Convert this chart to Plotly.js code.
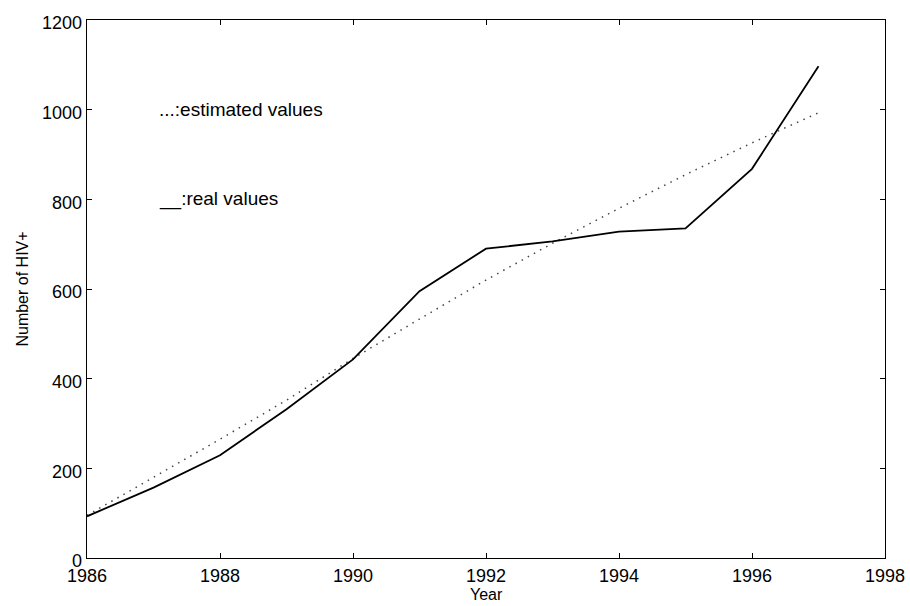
<!DOCTYPE html>
<html>
<head>
<meta charset="utf-8">
<script src="https://cdn.plot.ly/plotly-3.0.1.min.js"></script>
<style>
  html, body { margin: 0; padding: 0; background: #fff; }
  #chart { width: 910px; height: 606px; }
</style>
</head>
<body>
<div id="chart"></div>
<script>
const years = [1986, 1987, 1988, 1989, 1990, 1991, 1992, 1993, 1994, 1995, 1996, 1997];
const realValues = [93, 157, 229, 332, 443, 595, 690, 706, 728, 735, 868, 1097];
const estimatedValues = [95, 180, 265, 352, 445, 533, 620, 702, 780, 855, 926, 993];
const legendLabels = ["...:estimated values", "__:real values"];
const legendY = [1000, 800];
const xTitle = "Year";
const yTitle = "Number of HIV+";

const fontFam = "Liberation Sans, Arial, Helvetica, sans-serif";

const traces = [
  {
    x: years, y: estimatedValues, type: "scatter", mode: "lines",
    line: { color: "#444", width: 1.5, dash: "1.5px,5.5px" },
    hoverinfo: "skip"
  },
  {
    x: years, y: realValues, type: "scatter", mode: "lines",
    line: { color: "#000", width: 1.8 },
    hoverinfo: "skip"
  }
];

const annotations = legendLabels.map((t, i) => ({
  x: 1987.05, y: legendY[i], xref: "x", yref: "y",
  text: t, showarrow: false, xanchor: "left", yanchor: "middle",
  font: { family: fontFam, size: 19, color: "#000" }
}));
annotations.push({
  x: 0.5, y: -0.0874, xref: "paper", yref: "paper",
  text: xTitle, showarrow: false, xanchor: "center", yanchor: "bottom",
  font: { family: fontFam, size: 16, color: "#000" }
});
annotations.push({
  x: -0.082, y: 0.5, xref: "paper", yref: "paper",
  text: yTitle, showarrow: false, textangle: -90,
  xanchor: "center", yanchor: "middle",
  font: { family: fontFam, size: 16, color: "#000" }
});

const axisCommon = {
  showline: true, linecolor: "#000", linewidth: 1.3,
  mirror: "ticks", ticks: "inside", ticklen: 5, tickwidth: 1, tickcolor: "#000",
  showgrid: false, zeroline: false, automargin: false,
  tickfont: { family: fontFam, size: 18, color: "#000" }
};

const layout = {
  width: 910, height: 606,
  margin: { l: 87, r: 25, t: 20, b: 48 },
  paper_bgcolor: "#fff", plot_bgcolor: "#fff",
  showlegend: false,
  xaxis: Object.assign({}, axisCommon, {
    range: [1986, 1998], dtick: 2, tick0: 1986, ticklabelstandoff: 1
  }),
  yaxis: Object.assign({}, axisCommon, {
    range: [0, 1200], dtick: 200, tick0: 0, ticklabelshift: 3
  }),
  annotations: annotations
};

Plotly.newPlot("chart", traces, layout, { staticPlot: true, displayModeBar: false });
</script>
</body>
</html>
